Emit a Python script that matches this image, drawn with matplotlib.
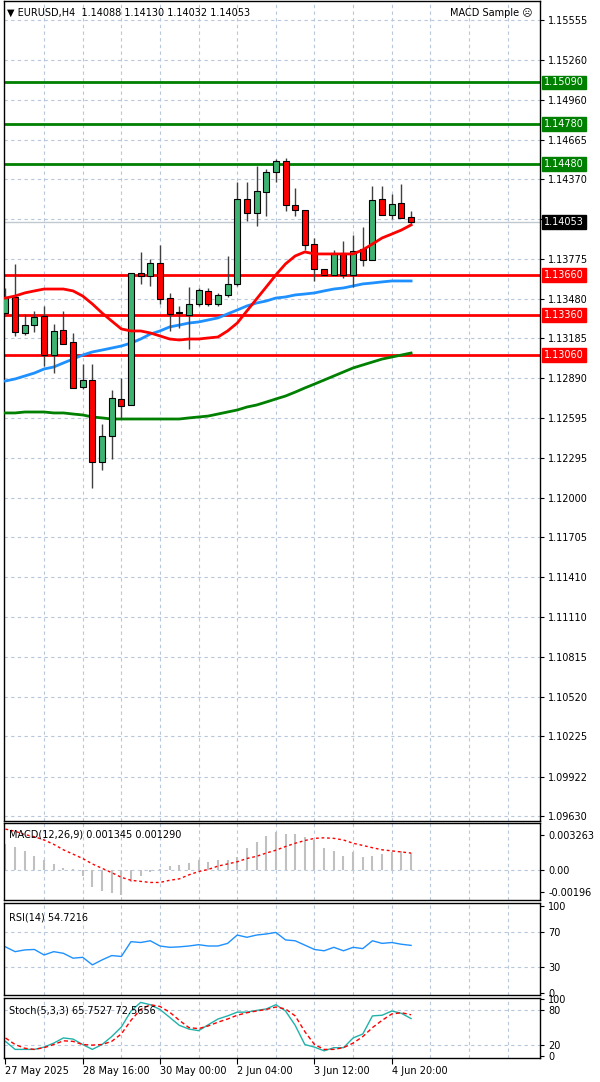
import matplotlib
matplotlib.use("Agg")
import matplotlib.pyplot as plt
import numpy as np

opens = [1.13375,1.13494,1.13226,1.13286,1.13353,1.13062,1.13248,1.13159,1.12824,1.12876,1.12266,1.12460,1.12735,1.12690,1.13672,1.13650,1.13747,1.13487,1.13375,1.13360,1.13442,1.13539,1.13442,1.13509,1.13591,1.14223,1.14118,1.14275,1.14424,1.14506,1.14178,1.14141,1.13888,1.13702,1.13658,1.13821,1.13658,1.13851,1.13770,1.14223,1.14103,1.14193,1.14088]
highs = [1.13561,1.13740,1.13368,1.13390,1.13427,1.13293,1.13390,1.13226,1.12995,1.12995,1.12549,1.12802,1.12891,1.13672,1.13829,1.13777,1.13881,1.13524,1.13427,1.13568,1.13561,1.13561,1.13524,1.13799,1.14349,1.14349,1.14468,1.14446,1.14520,1.14528,1.14305,1.14141,1.13933,1.13702,1.13844,1.13910,1.13955,1.14014,1.14319,1.14319,1.14260,1.14334,1.14130]
lows = [1.13353,1.13204,1.13211,1.13233,1.12980,1.12928,1.13144,1.12817,1.12809,1.12073,1.12207,1.12289,1.12586,1.12690,1.13591,1.13576,1.13442,1.13241,1.13263,1.13107,1.13427,1.13427,1.13427,1.13494,1.13576,1.14059,1.14022,1.14096,1.14349,1.14133,1.14096,1.13844,1.13613,1.13658,1.13658,1.13635,1.13568,1.13725,1.13770,1.14103,1.14074,1.14081,1.14032]
closes = [1.13487,1.13233,1.13286,1.13345,1.13062,1.13241,1.13144,1.12817,1.12876,1.12266,1.12460,1.12742,1.12683,1.13672,1.13650,1.13747,1.13479,1.13368,1.13382,1.13442,1.13546,1.13442,1.13509,1.13591,1.14223,1.14118,1.14282,1.14424,1.14506,1.14178,1.14141,1.13881,1.13702,1.13658,1.13821,1.13658,1.13836,1.13770,1.14215,1.14103,1.14185,1.14081,1.14053]

ma_red = [1.13486,1.13501,1.13524,1.13539,1.13553,1.13553,1.13553,1.13539,1.13501,1.13442,1.13375,1.13315,1.13256,1.13241,1.13241,1.13226,1.13204,1.13181,1.13174,1.13181,1.13181,1.13189,1.13196,1.13241,1.13300,1.13390,1.13479,1.13568,1.13658,1.13740,1.13799,1.13829,1.13814,1.13814,1.13814,1.13814,1.13814,1.13844,1.13888,1.13933,1.13962,1.13992,1.14030]
ma_blue = [1.12869,1.12884,1.12906,1.12928,1.12958,1.12973,1.13003,1.13032,1.13062,1.13085,1.13099,1.13114,1.13129,1.13151,1.13181,1.13218,1.13241,1.13271,1.13285,1.13300,1.13308,1.13323,1.13338,1.13368,1.13397,1.13427,1.13449,1.13464,1.13486,1.13494,1.13509,1.13516,1.13524,1.13539,1.13553,1.13561,1.13576,1.13591,1.13598,1.13606,1.13613,1.13613,1.13613]
ma_green = [1.12631,1.12631,1.12638,1.12638,1.12638,1.12631,1.12631,1.12623,1.12616,1.12601,1.12594,1.12586,1.12586,1.12586,1.12586,1.12586,1.12586,1.12586,1.12586,1.12594,1.12601,1.12608,1.12623,1.12638,1.12653,1.12675,1.12690,1.12712,1.12735,1.12757,1.12786,1.12817,1.12846,1.12876,1.12906,1.12936,1.12966,1.12988,1.13010,1.13032,1.13047,1.13062,1.13077]

macd_hist = [0.0024,0.00215,0.00175,0.00137,0.001,0.00057,0.00023,0.0001,-0.0005,-0.00149,-0.00192,-0.00206,-0.00226,-0.00106,-0.00049,-0.0001,0.0001,0.00037,0.00052,0.00066,0.001,0.0008,0.00094,0.001,0.00123,0.00209,0.00266,0.00318,0.00352,0.00338,0.00338,0.00309,0.00281,0.00203,0.0018,0.00137,0.00166,0.00123,0.00137,0.00152,0.00166,0.00175,0.0016]
macd_signal = [0.0038,0.0036,0.0033,0.0031,0.0028,0.0024,0.0019,0.0015,0.0011,0.0006,0.0002,-0.0002,-0.00063,-0.0009,-0.0010,-0.0011,-0.0011,-0.0009,-0.00077,-0.0004,-0.0001,0.0001,0.0004,0.0006,0.0008,0.0011,0.0013,0.0016,0.00186,0.0022,0.0025,0.00275,0.00295,0.0030,0.00295,0.0028,0.0025,0.0023,0.00209,0.0019,0.0018,0.0017,0.0016]
rsi = [53,47.5,49.5,50,43.7,47.5,45.6,40,41,32.3,38,43,42,59,58,60,54,52.5,53,54,55.5,54,54,57,66.6,64,66.6,67.8,69.6,61,60,55,50,48.5,52.5,48.5,52.5,51,60,57,58,56,54.7]
stoch_k = [26,12,12,12,16,23,32,30,20.5,12,20.5,34.4,51,79,94,90,81.7,68,54,47.5,44.7,55,65,70.5,77,77,80,82.6,90,79,54,20.5,16,9.5,15,15,32,38.9,70.5,71.6,79,75,65.75]
stoch_d = [32,20.5,14,12,15,20.5,27,26,20.5,19.5,20.5,26,39,62.8,81.7,90,87,77,62.8,50,48.3,53,59.5,65,71.6,76,79,81.7,86,82.6,70.5,43,20.5,12,12,15,23,34.4,50,62.8,73.8,76,72.5]

price_ticks = [1.15555,1.15260,1.14960,1.14665,1.14370,1.14075,1.13775,1.13480,1.13185,1.12890,1.12595,1.12295,1.12000,1.11705,1.11410,1.11110,1.10815,1.10520,1.10225,1.09922,1.09630]
hidden_ticks = [1.14075]
green_levels = [1.15090,1.14780,1.14480]
red_levels = [1.13660,1.13360,1.13060]
current_price = 1.14053
date_pos = [0,8,16,24,32,40]
date_labels = ["27 May 2025","28 May 16:00","30 May 00:00","2 Jun 04:00","3 Jun 12:00","4 Jun 20:00"]

W, H = 600, 1082
fig = plt.figure(figsize=(W/100, H/100), dpi=100)
fig.patch.set_facecolor("white")
FS = 7
GRID = dict(color="#b8c8dc", ls=(0, (3, 3)), lw=0.8)
XL = (-0.15, 55.35)

def ax_px(x0, y0, x1, y1):
    return fig.add_axes([x0/W, 1-y1/H, (x1-x0)/W, (y1-y0)/H])

def style(ax):
    ax.set_xlim(*XL)
    ax.set_xticks([])
    for s in ax.spines.values():
        s.set_color("black"); s.set_linewidth(1)
    ax.yaxis.tick_right()
    ax.tick_params(axis="y", length=3, labelsize=FS, pad=3)
    for i in range(4, 56, 4):
        ax.axvline(i, **GRID, zorder=0)

n = len(closes)
idx = np.arange(n)

# main
ax = ax_px(4, 1, 540, 821)
style(ax)
ax.set_ylim(1.09595, 1.15696)
ax.set_yticks(price_ticks)
ax.set_yticklabels(["" if t in hidden_ticks else f"{t:.5f}" for t in price_ticks])
for t in price_ticks:
    ax.axhline(t, **GRID, zorder=0)
ax.axhline(current_price, color="#c0c8d0", lw=1, zorder=1)
for lv in green_levels:
    ax.axhline(lv, color="#008000", lw=2, zorder=2)
for lv in red_levels:
    ax.axhline(lv, color="#ff0000", lw=2, zorder=2)
ax.plot(idx, ma_green, color="#008000", lw=2, zorder=3)
ax.plot(idx, ma_blue, color="#1e90ff", lw=2, zorder=3)
ax.plot(idx, ma_red, color="#ff0000", lw=2, zorder=5)
for i in range(n):
    o, h, l, c = opens[i], highs[i], lows[i], closes[i]
    col = "#3cb371" if c >= o else "#ff0000"
    ax.vlines(i, l, h, color="#404040", lw=1, zorder=4)
    ax.bar(i, max(abs(c-o), 0.00003), bottom=min(o, c), width=0.62, color=col,
           edgecolor="black", lw=0.8, zorder=4)
for lv, col in [(l, "#008000") for l in green_levels] + [(l, "#ff0000") for l in red_levels] + [(current_price, "black")]:
    fc = "black" if col == "black" else col
    ax.text(1.008, lv, f"{lv:.5f}", transform=ax.get_yaxis_transform(), va="center", ha="left",
            fontsize=FS, color="white", bbox=dict(boxstyle="square,pad=0.2", fc=fc, ec=fc), zorder=10, clip_on=False)
ax.text(0.005, 0.992, "▼ EURUSD,H4  1.14088 1.14130 1.14032 1.14053", transform=ax.transAxes,
        fontsize=FS, va="top", ha="left")
ax.text(0.985, 0.992, "MACD Sample ☹", transform=ax.transAxes, fontsize=FS, va="top", ha="right")

# MACD
a2 = ax_px(4, 823, 540, 900)
style(a2)
a2.set_ylim(-0.00271, 0.00436)
a2.set_yticks([0.003263, 0.0, -0.00196])
a2.set_yticklabels(["0.003263", "0.00", "-0.00196"])
a2.axhline(0, **GRID, zorder=0)
a2.vlines(idx, 0, macd_hist, color="#c0c0c0", lw=1.5)
a2.plot(idx, macd_signal, color="#ff0000", lw=1, ls=(0, (2, 2)))
a2.text(0.01, 0.92, "MACD(12,26,9) 0.001345 0.001290", transform=a2.transAxes, fontsize=FS, va="top")

# RSI
a3 = ax_px(4, 903, 540, 995)
style(a3)
a3.set_ylim(-2.3, 103.4)
a3.set_yticks([100, 70, 30, 0])
for lv in [70, 30]:
    a3.axhline(lv, **GRID, zorder=0)
a3.plot(idx, rsi, color="#1e90ff", lw=1)
a3.text(0.01, 0.9, "RSI(14) 54.7216", transform=a3.transAxes, fontsize=FS, va="top")

# Stoch
a4 = ax_px(4, 998, 540, 1058)
style(a4)
a4.set_ylim(-3, 101.7)
a4.set_yticks([100, 80, 20, 0])
for lv in [80, 20]:
    a4.axhline(lv, **GRID, zorder=0)
a4.plot(idx, stoch_k, color="#20b2aa", lw=1)
a4.plot(idx, stoch_d, color="#ff0000", lw=1, ls=(0, (3, 2)))
a4.text(0.01, 0.88, "Stoch(5,3,3) 65.7527 72.5656", transform=a4.transAxes, fontsize=FS, va="top")
a4.set_xticks(date_pos)
a4.set_xticklabels(date_labels, fontsize=FS, ha="left")
a4.tick_params(axis="x", length=4, pad=2)

fig.savefig("out.png", dpi=100)
